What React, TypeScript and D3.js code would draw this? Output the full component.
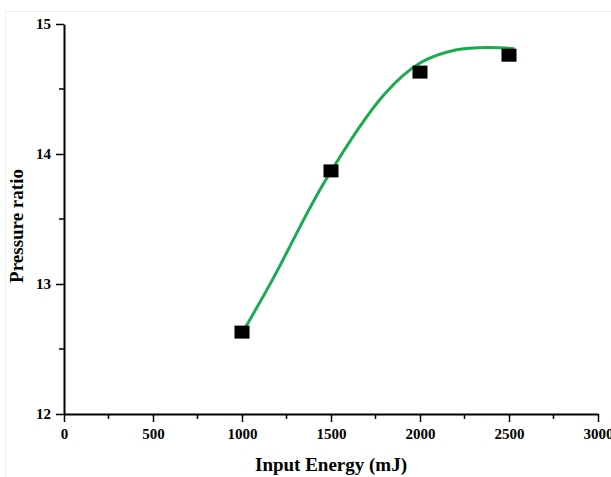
import React, { useEffect, useRef } from 'react';
import * as d3 from 'd3';

// measured points
const energy = [1000, 1500, 2000, 2500];
const pressure = [12.63, 13.87, 14.63, 14.76];

// fitted curve
const fitEnergy = [1000, 1170, 1470, 1800, 2000, 2200, 2390, 2530];
const fitPressure = [12.62, 13.03, 13.8, 14.46, 14.7, 14.8, 14.82, 14.81];

const xTicks = [0, 500, 1000, 1500, 2000, 2500, 3000];
const xMinor = [250, 750, 1250, 1750, 2250, 2750];
const yTicks = [12, 13, 14, 15];
const yMinor = [12.5, 13.5, 14.5];

const App = () => {
  const svgRef = useRef<SVGSVGElement>(null);

  useEffect(() => {
    const width = 611;
    const height = 477;
    const margin = { top: 24, right: 13, bottom: 63, left: 64 };

    const svg = d3.select(svgRef.current);
    svg.selectAll('*').remove();

    const x = d3.scaleLinear().domain([0, 3000]).range([margin.left, width - margin.right]);
    const y = d3.scaleLinear().domain([12, 15]).range([height - margin.bottom, margin.top]);

    const font = '"Liberation Serif", "Times New Roman", serif';

    // faint border of the original figure
    svg.append('path')
      .attr('d', `M5.5,${height}V11.5H${width}`)
      .attr('fill', 'none')
      .attr('stroke', '#f0f0f0');

    // x axis
    const gx = svg.append('g').attr('transform', `translate(0,${y(12)})`);
    gx.call(d3.axisBottom(x).tickValues(xTicks).tickFormat(d3.format('d') as any).tickSize(8).tickSizeOuter(0).tickPadding(6) as any);
    xMinor.forEach(v => {
      gx.append('line').attr('x1', x(v)).attr('x2', x(v)).attr('y1', 0).attr('y2', 5).attr('stroke', '#000').attr('stroke-width', 1.5);
    });

    // y axis
    const gy = svg.append('g').attr('transform', `translate(${x(0)},0)`);
    gy.call(d3.axisLeft(y).tickValues(yTicks).tickFormat(d3.format('d') as any).tickSize(8).tickSizeOuter(0).tickPadding(5) as any);
    yMinor.forEach(v => {
      gy.append('line').attr('x1', 0).attr('x2', -5).attr('y1', y(v)).attr('y2', y(v)).attr('stroke', '#000').attr('stroke-width', 1.5);
    });

    [gx, gy].forEach(g => {
      g.select('.domain').attr('stroke', '#000').attr('stroke-width', 2);
      g.selectAll('.tick line').attr('stroke', '#000').attr('stroke-width', 1.5);
      g.selectAll('.tick text')
        .attr('fill', '#000')
        .attr('font-family', font)
        .attr('font-weight', 'bold')
        .attr('font-size', 15);
    });

    // fitted line
    const fit = fitEnergy.map((e, i) => [e, fitPressure[i]] as [number, number]);
    const line = d3.line<[number, number]>()
      .x(d => x(d[0]))
      .y(d => y(d[1]))
      .curve(d3.curveCatmullRom.alpha(0.5));

    svg.append('path')
      .datum(fit)
      .attr('fill', 'none')
      .attr('stroke', '#1aab50')
      .attr('stroke-width', 3)
      .attr('d', line);

    // markers
    svg.selectAll('.pt')
      .data(energy.map((e, i) => [e, pressure[i]]))
      .join('rect')
      .attr('class', 'pt')
      .attr('x', d => x(d[0]) - 7.5)
      .attr('y', d => y(d[1]) - 6.5)
      .attr('width', 15)
      .attr('height', 13)
      .attr('fill', '#000');

    // axis titles
    svg.append('text')
      .attr('x', x(1500))
      .attr('y', 471)
      .attr('text-anchor', 'middle')
      .attr('font-family', font)
      .attr('font-weight', 'bold')
      .attr('font-size', 19)
      .text('Input Energy (mJ)');

    svg.append('text')
      .attr('transform', `translate(23,${226}) rotate(-90)`)
      .attr('text-anchor', 'middle')
      .attr('font-family', font)
      .attr('font-weight', 'bold')
      .attr('font-size', 19)
      .text('Pressure ratio');
  }, []);

  return (
    <svg ref={svgRef} width={611} height={477} style={{ position: 'absolute', left: 0, top: 0, background: '#fff' }} />
  );
};

export default App;
